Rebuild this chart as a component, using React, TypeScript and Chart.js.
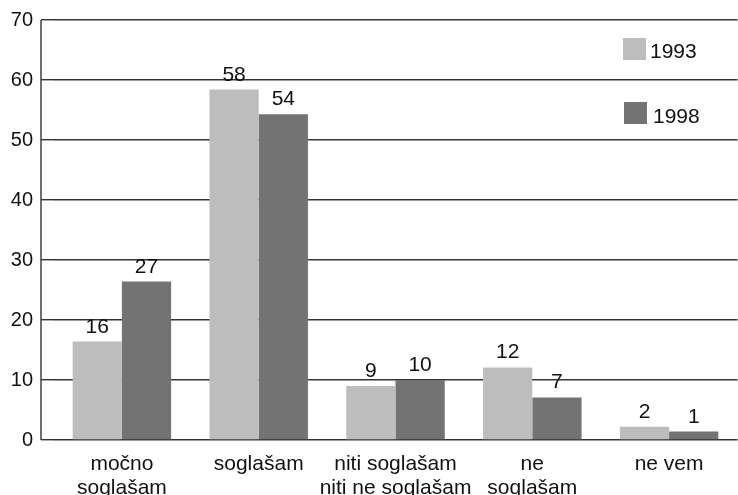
import React, { useEffect, useRef } from "react";
import { Chart, registerables } from "chart.js";

Chart.register(...registerables);

const categories: string[][] = [
  ["močno", "soglašam"],
  ["soglašam"],
  ["niti soglašam", "niti ne soglašam"],
  ["ne", "soglašam"],
  ["ne vem"],
];
const seriesNames = ["1993", "1998"];
const values1993 = [16.4, 58.4, 9.0, 12.1, 2.2];
const values1998 = [26.4, 54.3, 10.0, 7.1, 1.4];
const labels1993 = ["16", "58", "9", "12", "2"];
const labels1998 = ["27", "54", "10", "7", "1"];
const yTicks = [0, 10, 20, 30, 40, 50, 60, 70];

const COLORS = ["#bdbdbd", "#737373"];
const FONT = "'Liberation Sans', Arial, sans-serif";

const valueLabelsPlugin = {
  id: "valueLabels",
  afterDatasetsDraw(chart: any) {
    const ctx = chart.ctx;
    const texts = [labels1993, labels1998];
    ctx.save();
    ctx.font = `21px ${FONT}`;
    ctx.fillStyle = "#111";
    ctx.textAlign = "center";
    ctx.textBaseline = "alphabetic";
    chart.data.datasets.forEach((_ds: any, di: number) => {
      const meta = chart.getDatasetMeta(di);
      meta.data.forEach((bar: any, i: number) => {
        ctx.fillText(texts[di][i], bar.x, bar.y - 9);
      });
    });
    ctx.restore();
  },
};

const axisLinePlugin = {
  id: "axisLine",
  afterDraw(chart: any) {
    const { ctx, chartArea } = chart;
    const x = chartArea.left - 12.5;
    ctx.save();
    ctx.strokeStyle = "#333";
    ctx.lineWidth = 1.4;
    ctx.beginPath();
    ctx.moveTo(x, chartArea.top);
    ctx.lineTo(x, chartArea.bottom);
    ctx.stroke();
    ctx.restore();
  },
};

const legendPlugin = {
  id: "customLegend",
  afterDraw(chart: any) {
    const ctx = chart.ctx;
    const items = [
      { bx: 623, by: 38, tx: 650, ty: 58 },
      { bx: 624, by: 102, tx: 653, ty: 123 },
    ];
    ctx.save();
    ctx.font = `21px ${FONT}`;
    ctx.textAlign = "left";
    ctx.textBaseline = "alphabetic";
    items.forEach((it, i) => {
      ctx.fillStyle = COLORS[i];
      ctx.fillRect(it.bx, it.by, 23, 22);
      ctx.fillStyle = "#111";
      ctx.fillText(seriesNames[i], it.tx, it.ty);
    });
    ctx.restore();
  },
};

export default function App() {
  const canvasRef = useRef<HTMLCanvasElement | null>(null);

  useEffect(() => {
    if (!canvasRef.current) return;
    const chart = new Chart(canvasRef.current, {
      type: "bar",
      data: {
        labels: categories as any,
        datasets: [
          {
            label: seriesNames[0],
            data: values1993,
            backgroundColor: COLORS[0],
            borderWidth: 0,
            categoryPercentage: 0.72,
            barPercentage: 1.0,
          },
          {
            label: seriesNames[1],
            data: values1998,
            backgroundColor: COLORS[1],
            borderWidth: 0,
            categoryPercentage: 0.72,
            barPercentage: 1.0,
          },
        ],
      },
      options: {
        responsive: false,
        animation: false,
        layout: { padding: { top: 18, left: 0, right: 0.5, bottom: 0 } },
        plugins: {
          legend: { display: false },
          tooltip: { enabled: false },
        },
        scales: {
          x: {
            grid: { display: false, drawTicks: false },
            border: { display: false },
            ticks: {
              color: "#111",
              font: { family: FONT, size: 21, lineHeight: 1.15 },
              padding: 12,
              maxRotation: 0,
              autoSkip: false,
            },
            afterFit(scale: any) {
              scale.height = 55;
            },
          },
          y: {
            min: 0,
            max: 70,
            afterBuildTicks(scale: any) {
              scale.ticks = yTicks.map((v) => ({ value: v }));
            },
            grid: {
              color: "#333",
              lineWidth: 1.4,
              drawTicks: true,
              tickLength: 12.5,
            },
            border: { display: false },
            ticks: {
              color: "#111",
              font: { family: FONT, size: 20 },
              padding: 8,
            },
            afterFit(scale: any) {
              scale.width = 53.5;
            },
          },
        },
      },
      plugins: [valueLabelsPlugin, axisLinePlugin, legendPlugin],
    });
    return () => chart.destroy();
  }, []);

  return (
    <div style={{ position: "absolute", left: 0, top: 0, width: 738, height: 495, background: "#fff" }}>
      <canvas ref={canvasRef} width={738} height={495} />
    </div>
  );
}
